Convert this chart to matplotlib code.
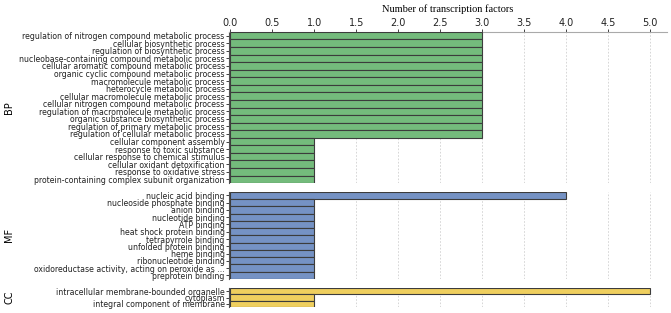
import matplotlib
matplotlib.use('Agg')
import matplotlib.pyplot as plt

bp_terms = [
    'regulation of nitrogen compound metabolic process',
    'cellular biosynthetic process',
    'regulation of biosynthetic process',
    'nucleobase-containing compound metabolic process',
    'cellular aromatic compound metabolic process',
    'organic cyclic compound metabolic process',
    'macromolecule metabolic process',
    'heterocycle metabolic process',
    'cellular macromolecule metabolic process',
    'cellular nitrogen compound metabolic process',
    'regulation of macromolecule metabolic process',
    'organic substance biosynthetic process',
    'regulation of primary metabolic process',
    'regulation of cellular metabolic process',
    'cellular component assembly',
    'response to toxic substance',
    'cellular response to chemical stimulus',
    'cellular oxidant detoxification',
    'response to oxidative stress',
    'protein-containing complex subunit organization',
]
bp_counts = [3] * 14 + [1] * 6

mf_terms = [
    'nucleic acid binding',
    'nucleoside phosphate binding',
    'anion binding',
    'nucleotide binding',
    'ATP binding',
    'heat shock protein binding',
    'tetrapyrrole binding',
    'unfolded protein binding',
    'heme binding',
    'ribonucleotide binding',
    'oxidoreductase activity, acting on peroxide as ...',
    'preprotein binding',
]
mf_counts = [4] + [1] * 11

cc_terms = [
    'intracellular membrane-bounded organelle',
    'cytoplasm',
    'integral component of membrane',
]
cc_counts = [5, 1, 1]

groups = [
    ('BP', bp_terms, bp_counts, '#74bb7c', (0.415, 0.898)),
    ('MF', mf_terms, mf_counts, '#7592c4', (0.109, 0.387)),
    ('CC', cc_terms, cc_counts, '#efcf5e', (0.019, 0.080)),
]

fig = plt.figure(figsize=(6.71, 3.13), dpi=100)
left, right = 0.341, 0.994

for i, (name, terms, counts, color, (y0, y1)) in enumerate(groups):
    ax = fig.add_axes([left, y0, right - left, y1 - y0])
    pos = list(range(len(terms)))
    ax.barh(pos, counts, height=1.0, color=color, edgecolor='#3c3c3c', linewidth=0.8, zorder=3)
    ax.set_ylim(len(terms) - 0.5, -0.5)
    ax.set_xlim(-0.02, 5.2)
    ax.set_yticks(pos)
    ax.set_yticklabels(terms, fontsize=5.6)
    ax.tick_params(axis='y', length=2, width=0.6, pad=1, colors='#222222')
    ax.set_xticks([x * 0.5 for x in range(11)])
    ax.grid(axis='x', linestyle=(0, (2, 2)), color='#d0d0d0', linewidth=0.6, zorder=0)
    for s in ['right', 'bottom', 'top']:
        ax.spines[s].set_visible(False)
    ax.spines['left'].set_color('#555555')
    ax.spines['left'].set_linewidth(0.8)
    ax.set_ylabel(name, fontsize=7)
    ax.yaxis.set_label_coords(-0.49, 0.5)
    if i == 0:
        ax.xaxis.tick_top()
        ax.xaxis.set_label_position('top')
        ax.spines['top'].set_visible(True)
        ax.spines['top'].set_color('#aaaaaa')
        ax.spines['top'].set_linewidth(0.8)
        ax.tick_params(axis='x', length=2, width=0.6, pad=1, labelsize=7, colors='#222222')
        ax.set_xlabel('Number of transcription factors', fontsize=7.5,
                      family='Liberation Serif', labelpad=4)
    else:
        ax.tick_params(axis='x', length=0, labelbottom=False)

fig.savefig('out.png', dpi=100)
